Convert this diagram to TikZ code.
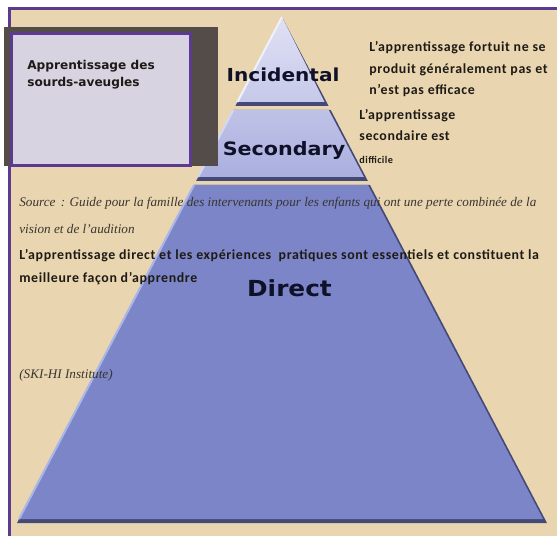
\documentclass[tikz,border=0pt]{standalone}
\usepackage{fontspec}
\newfontfamily\tierfont[FakeStretch=1.12]{DejaVu Sans}
\newfontfamily\boxfont{DejaVu Sans}
\newfontfamily\notefont[LetterSpace=4.5]{Carlito}
\newfontfamily\srcfont{Liberation Serif}
\usetikzlibrary{positioning}

\definecolor{parchment}{HTML}{E9D6B0}
\definecolor{framecol}{HTML}{5B3A8F}
\definecolor{boxshadow}{HTML}{534C49}
\definecolor{boxfill}{HTML}{D7D3E1}
\definecolor{tiershadow}{HTML}{454977}
\definecolor{incA}{HTML}{E0E0F4}
\definecolor{incB}{HTML}{C7C9EA}
\definecolor{incH}{HTML}{EEF0FA}
\definecolor{secA}{HTML}{BFC2E6}
\definecolor{secB}{HTML}{ABAFDF}
\definecolor{secH}{HTML}{D2D7F3}
\definecolor{dirA}{HTML}{7B85C7}
\definecolor{dirH}{HTML}{A9B6E7}
\definecolor{tiertext}{HTML}{0F1128}
\definecolor{notetext}{HTML}{1E1A16}
\definecolor{srctext}{HTML}{3A3530}

\begin{document}
\begin{tikzpicture}[x=0.02cm,y=-0.02cm,
    tierlabel/.style={inner sep=0pt,anchor=base,text=tiertext},
    note/.style={inner sep=0pt,anchor=base west,align=left,text=notetext,
      font=\notefont\bfseries\fontsize{7.9}{12.3}\selectfont},
    srcnote/.style={inner sep=0pt,anchor=base west,align=left,text=srctext,
      font=\srcfont\itshape\fontsize{7.5}{15.4}\selectfont}]

  \useasboundingbox (0,0) rectangle (557,536);
  \fill[white] (0,0) rectangle (557,536);
  \fill[parchment] (9,8) rectangle (557,536);

  % pyramid, one tier at a time
  \foreach \ya/\yb/\topc/\botc/\hic in {17/106/incA/incB/incH,110/181/secA/secB/secH,185/523/dirA/dirA/dirH}{
    \pgfmathsetmacro\xla{282-0.5237*(\ya-17)}
    \pgfmathsetmacro\xra{282+0.5237*(\ya-17)}
    \pgfmathsetmacro\xlb{282-0.5237*(\yb-17)}
    \pgfmathsetmacro\xrb{282+0.5237*(\yb-17)}
    \pgfmathsetmacro\ins{\ya>17 ? 2 : 0}
    \fill[tiershadow] (\xla,\ya) -- (\xra,\ya) -- (\xrb,\yb) -- (\xlb,\yb) -- cycle;
    \shade[top color=\topc,bottom color=\botc]
      (\xla,\ya) -- (\xra-\ins,\ya) -- (\xrb-4,\yb-4) -- (\xlb+2,\yb-4) -- cycle;
    \draw[\hic,line width=1.2pt] (\xlb+2,\yb-4) -- (\xla,\ya);
  }

  \node (incidental) [tierlabel,font=\tierfont\bfseries\fontsize{10.2}{12}\selectfont] at (283,82) {Incidental};
  \node (secondary)  [tierlabel,font=\tierfont\bfseries\fontsize{10.5}{12}\selectfont] at (284,156) {Secondary};
  \node (direct)     [tierlabel,font=\tierfont\bfseries\fontsize{12.6}{14}\selectfont] at (289.5,297) {Direct};

  % frame and title box
  \draw[framecol,line width=1.7pt] (9.5,536) -- (9.5,8.5) -- (557,8.5);
  \fill[boxshadow] (4,27) rectangle (218,166);
  \node (box) [draw=framecol,line width=1.7pt,fill=boxfill,inner sep=0pt,
    minimum width=3.58cm,minimum height=2.64cm] at (101,99.5) {};
  \node (boxtitle) [inner sep=0pt,anchor=base west,align=left,text=notetext,
    font=\boxfont\bfseries\fontsize{6.9}{9.7}\selectfont] at (27,87)
    {Apprentissage des\\sourds-aveugles};

  % notes (base = last line)
  \node (incnote) [note] at (369,95)
    {L’apprentissage fortuit ne se\\produit généralement pas et\\n’est pas efficace};
  \node (secnote) [note,font=\notefont\bfseries\fontsize{7.9}{12}\selectfont] at (359,141)
    {L’apprentissage\\secondaire est};
  \node (secnote2) [note,font=\notefont\bfseries\fontsize{5.8}{7}\selectfont] at (359,164) {difficile};
  \node (source) [srcnote] at (19,234)
    {Source \,: Guide pour la famille des intervenants pour les enfants qui ont une perte combinée de la\\vision et de l’audition};
  \node (dirnote) [note,font=\notefont\bfseries\fontsize{7.9}{13.1}\selectfont] at (19,283)
    {L’apprentissage direct et les expériences \ pratiques sont essentiels et constituent la\\meilleure façon d’apprendre};
  \node (skihi) [srcnote] at (19,378) {(SKI-HI Institute)};

\end{tikzpicture}
\end{document}
